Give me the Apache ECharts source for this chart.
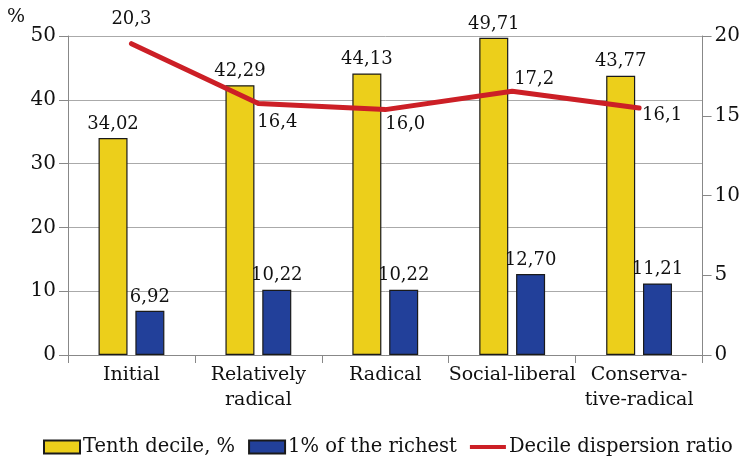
<!DOCTYPE html>
<html><head><meta charset="utf-8">
<script src="https://cdn.jsdelivr.net/npm/echarts@6/dist/echarts.min.js"></script>
<style>html,body{margin:0;padding:0;background:#fff}#c{width:743px;height:459px}</style>
</head><body><div id="c"></div>
<script>
const categories = ['Initial', 'Relatively\nradical', 'Radical', 'Social-liberal', 'Conserva-\ntive-radical'];
const tenthDecile = [34.02, 42.29, 44.13, 49.71, 43.77];
const richest1 = [6.92, 10.22, 10.22, 12.70, 11.21];
const dispersion = [20.3, 16.4, 16.0, 17.2, 16.1];
const leftTicks = [0, 10, 20, 30, 40, 50];
const rightTicks = [0, 5, 10, 15, 20];
const lineLabelOffsets = [[0, -24], [19, 19], [20, 15], [22, -12], [23, 7]];

const FONT = 'DejaVu Serif';
const fmt = v => v.toFixed(2).replace('.', ',');
const fmt1 = v => v.toFixed(1).replace('.', ',');
const chart = echarts.init(document.getElementById('c'));
chart.setOption({
  animation: false,
  textStyle: {fontFamily: FONT, color: '#111'},
  grid: {left: 68, right: 38, top: 36, bottom: 104},
  legend: {
    top: 432, left: 38, itemWidth: 36, itemHeight: 13, itemGap: 13,
    textStyle: {fontFamily: FONT, fontSize: 19.5, color: '#111', padding: [0, 0, 0, -2]},
    data: [
      {name: 'Tenth decile, %', icon: 'rect'},
      {name: '1% of the richest', icon: 'rect'},
      {name: 'Decile dispersion ratio', icon: 'path://M0,0 L40,0 L40,4.5 L0,4.5 Z'}
    ]
  },
  xAxis: {
    type: 'category', data: categories,
    axisLine: {lineStyle: {color: '#888', width: 1}},
    axisTick: {show: true, length: 8, lineStyle: {color: '#888'}},
    axisLabel: {interval: 0, fontFamily: FONT, fontSize: 19, color: '#111', margin: 8, lineHeight: 25}
  },
  yAxis: [
    {type: 'value', min: 0, max: 50, interval: 10,
     name: '%', nameLocation: 'end', nameGap: 4,
     nameTextStyle: {fontFamily: FONT, fontSize: 19, color: '#111', align: 'right', verticalAlign: 'bottom', padding: [0, 43, 0, 0]},
     axisLine: {show: true, lineStyle: {color: '#888'}},
     axisTick: {show: true, length: 9, lineStyle: {color: '#888'}},
     axisLabel: {fontFamily: FONT, fontSize: 20, color: '#111', margin: 12,
                 formatter: v => leftTicks.includes(v) ? String(v) : ''},
     splitLine: {show: true, lineStyle: {color: '#aaa', width: 1}}},
    {type: 'value', min: 0, max: 20, interval: 5, position: 'right',
     axisLine: {show: true, lineStyle: {color: '#888'}},
     axisTick: {show: true, length: 9, lineStyle: {color: '#888'}},
     axisLabel: {fontFamily: FONT, fontSize: 20, color: '#111', margin: 12,
                 formatter: v => rightTicks.includes(v) ? String(v) : ''},
     splitLine: {show: false}},
    {type: 'value', min: 0, max: 20.8, show: false, splitLine: {show: false}}
  ],
  series: [
    {name: 'Tenth decile, %', type: 'bar', data: tenthDecile, barWidth: 29, barGap: '27%',
     itemStyle: {color: '#ECCF1B', borderColor: '#1a1a1a', borderWidth: 1.2},
     label: {show: true, position: 'top', distance: 5, fontFamily: FONT, fontSize: 18, color: '#111',
             formatter: p => fmt(p.value)}},
    {name: '1% of the richest', type: 'bar', data: richest1, barWidth: 29,
     itemStyle: {color: '#22409A', borderColor: '#1a1a1a', borderWidth: 1.2},
     label: {show: true, position: 'top', distance: 5, fontFamily: FONT, fontSize: 18, color: '#111',
             formatter: p => fmt(p.value)}},
    {name: 'Decile dispersion ratio', type: 'line', yAxisIndex: 2, z: 5,
     data: dispersion.map((v, i) => ({value: v, label: {offset: lineLabelOffsets[i]}})),
     symbol: 'circle', symbolSize: 1, showSymbol: true,
     lineStyle: {color: '#CC1F26', width: 5, cap: 'round', join: 'round'},
     itemStyle: {color: '#CC1F26'},
     label: {show: true, position: 'inside', fontFamily: FONT, fontSize: 18, color: '#111',
             formatter: p => fmt1(p.value)}}
  ]
});
</script></body></html>
